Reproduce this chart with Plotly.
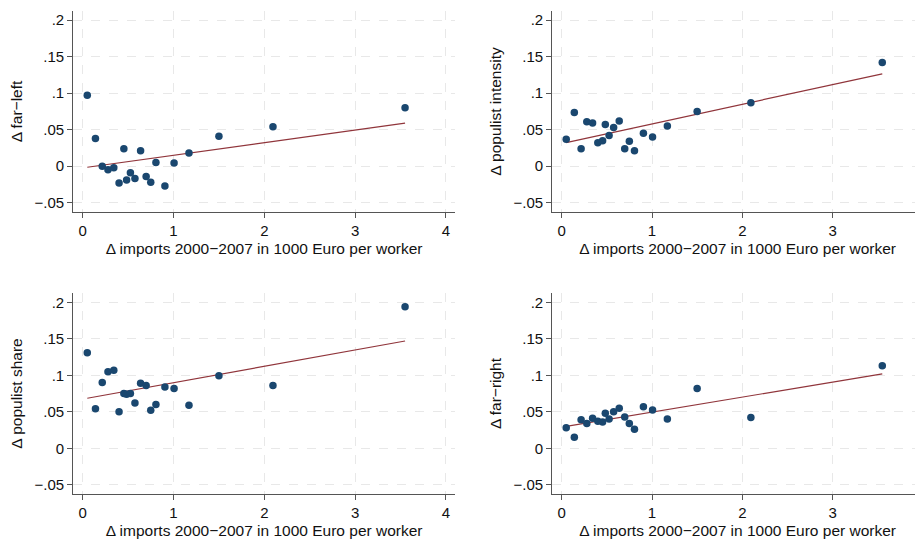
import plotly.graph_objects as go

# shared x: change in imports 2000-2007 (1000 Euro per worker)
imports = [0.05, 0.14, 0.215, 0.278, 0.342, 0.40, 0.453, 0.483, 0.525, 0.575,
           0.637, 0.698, 0.749, 0.806, 0.905, 1.006, 1.17, 1.50, 2.095, 3.55]

far_left = [0.097, 0.038, 0.0, -0.005, -0.002, -0.023, 0.024, -0.019, -0.009, -0.017,
            0.021, -0.014, -0.022, 0.005, -0.027, 0.0045, 0.018, 0.041, 0.054, 0.080]
populist_intensity = [0.037, 0.0735, 0.024, 0.061, 0.059, 0.032, 0.035, 0.057, 0.042, 0.053,
                      0.062, 0.024, 0.034, 0.021, 0.045, 0.040, 0.055, 0.075, 0.087, 0.142]
populist_share = [0.131, 0.054, 0.090, 0.105, 0.107, 0.050, 0.075, 0.074, 0.075, 0.062,
                  0.089, 0.086, 0.052, 0.060, 0.084, 0.082, 0.059, 0.0995, 0.086, 0.194]
far_right = [0.028, 0.015, 0.039, 0.034, 0.041, 0.037, 0.036, 0.048, 0.040, 0.050,
             0.055, 0.043, 0.034, 0.026, 0.057, 0.0525, 0.040, 0.082, 0.042, 0.113]

# linear fit values at the smallest and largest import change
fit_x = [0.05, 3.55]
fit_far_left = [-0.0014, 0.0589]
fit_populist_intensity = [0.0324, 0.1265]
fit_populist_share = [0.0685, 0.147]
fit_far_right = [0.030, 0.102]

y_titles = ["Δ far−left", "Δ populist intensity", "Δ populist share", "Δ far−right"]
x_title = "Δ imports 2000−2007 in 1000 Euro per worker"
y_tickvals = [-0.05, 0, 0.05, 0.1, 0.15, 0.2]
y_ticktext = ["−.05", "0", ".05", ".1", ".15", ".2"]
x_tickvals = [0, 1, 2, 3, 4]

OFF = 8  # default page body margin
W, H = 923 - OFF, 540 - OFF
NAVY = "#1a476f"
MAROON = "#90353b"
FONT = "Liberation Sans, Arial, sans-serif"
TICK_SIZE = 15
TITLE_SIZE = 15.5

panels = [
    (far_left, fit_far_left, y_titles[0]),
    (populist_intensity, fit_populist_intensity, y_titles[1]),
    (populist_share, fit_populist_share, y_titles[2]),
    (far_right, fit_far_right, y_titles[3]),
]

# page-pixel geometry (left, right, top, bottom) for each plot region
geo = [
    (73.3, 455.0, 11.0, 212.0),
    (552.3, 923.0, 11.0, 212.0),
    (73.3, 455.0, 293.0, 494.0),
    (552.3, 923.0, 293.0, 494.0),
]
x_ranges = [[-0.104, 4.10], [-0.104, 4.001], [-0.104, 4.10], [-0.104, 4.001]]
y_ranges = [[-0.0627, 0.2125], [-0.0627, 0.2125], [-0.0627, 0.2128], [-0.0627, 0.2128]]

fig = go.Figure()
for i, (vals, fit, yt) in enumerate(panels):
    n = "" if i == 0 else str(i + 1)
    fig.add_trace(go.Scatter(x=fit_x, y=fit, mode="lines",
                             line=dict(color=MAROON, width=1.2),
                             xaxis="x" + n, yaxis="y" + n, showlegend=False,
                             hoverinfo="skip"))
    fig.add_trace(go.Scatter(x=imports, y=vals, mode="markers",
                             marker=dict(color=NAVY, size=7.5, line=dict(width=0)),
                             xaxis="x" + n, yaxis="y" + n, showlegend=False))
    l, r, t, btm = [v - OFF for v in geo[i]]
    ax_common = dict(showline=True, linecolor="#555555", linewidth=1.2,
                     ticks="outside", ticklen=5, tickwidth=1, tickcolor="#555555",
                     showgrid=True, gridcolor="#e8e8e8", griddash="dash", gridwidth=1,
                     zeroline=False, tickfont=dict(size=TICK_SIZE, color="#111111", family=FONT),
                     mirror=False, automargin=False)
    fig.layout["xaxis" + n] = dict(
        ax_common, domain=[l / W, min(r / W, 1.0)], range=x_ranges[i],
        tickvals=x_tickvals, anchor="y" + n,
        title=dict(text=x_title, font=dict(size=TITLE_SIZE, color="#111111", family=FONT), standoff=5),
    )
    fig.layout["yaxis" + n] = dict(
        ax_common, domain=[1 - btm / H, 1 - t / H], range=y_ranges[i],
        tickvals=y_tickvals, ticktext=y_ticktext, anchor="x" + n,
        title=dict(text=yt, font=dict(size=TITLE_SIZE, color="#111111", family=FONT), standoff=8),
    )

fig.update_layout(width=W, height=H, margin=dict(l=0, r=0, t=0, b=0),
                  paper_bgcolor="white", plot_bgcolor="white",
                  font=dict(family=FONT, size=14, color="#111111"))
fig.write_html("out.html")
